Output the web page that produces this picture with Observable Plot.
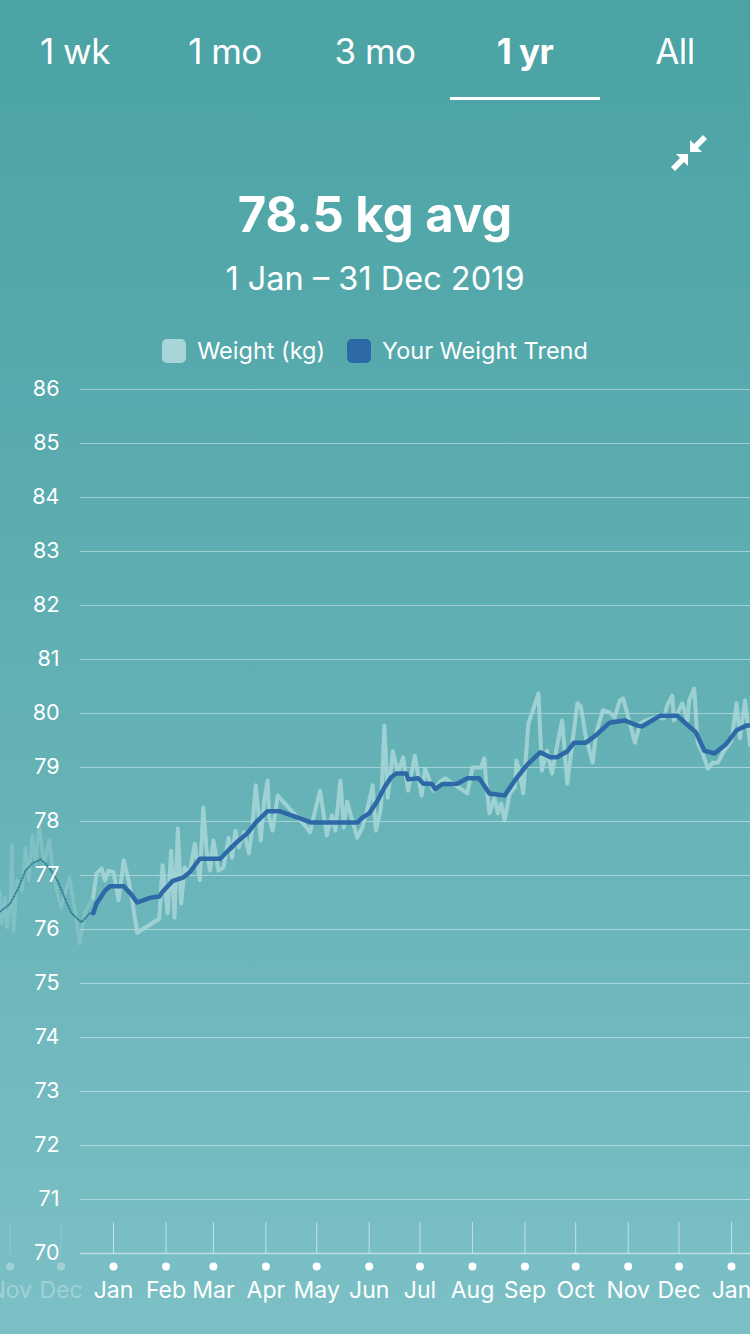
<!DOCTYPE html>
<html>
<head>
<meta charset="utf-8">
<script src="https://cdn.jsdelivr.net/npm/d3@7"></script>
<script src="https://cdn.jsdelivr.net/npm/@observablehq/plot@0.6"></script>
<style>
  html, body { margin: 0; padding: 0; }
  body {
    width: 750px; height: 1334px; overflow: hidden;
    background: linear-gradient(180deg, #4ba3a4 0%, #57aaad 30%, #66b3b7 60%, #7cc0c6 100%);
    font-family: Inter, "Noto Sans", sans-serif; color: #fff;
    position: relative;
  }
  .tabs { position: absolute; top: 0; left: 0; width: 750px; height: 100px; display: flex; }
  .tab { width: 150px; text-align: center; font-size: 35px; line-height: 102px; font-weight: 400; letter-spacing: -0.5px; }
  .tab.active { font-weight: 700; }
  .underline { position: absolute; left: 450px; top: 97px; width: 150px; height: 3px; background: #fff; }
  .icon { position: absolute; left: 668px; top: 130px; }
  .title { position: absolute; top: 185px; width: 750px; text-align: center; font-size: 49px; font-weight: 700; line-height: 60px; }
  .subtitle { position: absolute; top: 258px; width: 750px; text-align: center; font-size: 32.5px; line-height: 42px; }
  .legend { position: absolute; top: 336px; width: 750px; display: flex; justify-content: center; align-items: center; font-size: 23.5px; line-height: 30px; }
  .sw { width: 24px; height: 24px; border-radius: 5px; display: inline-block; margin-right: 11px; }
  .item { display: flex; align-items: center; margin: 0 11px; }
  #chart { position: absolute; top: 360px; left: 0; }
</style>
</head>
<body>
<div class="tabs" id="tabs"></div>
<div class="underline"></div>
<svg class="icon" width="46" height="46" viewBox="0 0 46 46">
  <path d="M22 22 L22 10 L26 14 L35 5 L39 9 L30 18 L34 22 Z" fill="#fff"/>
  <path d="M20 24 L20 36 L16 32 L7 41 L3 37 L12 28 L8 24 Z" fill="#fff"/>
</svg>
<div class="title" id="title"></div>
<div class="subtitle" id="subtitle"></div>
<div class="legend" id="legend"></div>
<div id="chart"></div>
<script>
const tabLabels = ["1 wk", "1 mo", "3 mo", "1 yr", "All"];
const activeTab = "1 yr";
const titleText = "78.5 kg avg";
const subtitleText = "1 Jan – 31 Dec 2019";
const seriesNames = ["Weight (kg)", "Your Weight Trend"];
const seriesColors = ["#a8d6d8", "#2d69a6"];

const yTicks = [70, 71, 72, 73, 74, 75, 76, 77, 78, 79, 80, 81, 82, 83, 84, 85, 86];
const monthTickDates = ["2018-11-01","2018-12-01","2019-01-01","2019-02-01","2019-03-01","2019-04-01","2019-05-01","2019-06-01","2019-07-01","2019-08-01","2019-09-01","2019-10-01","2019-11-01","2019-12-01","2020-01-01"];
const monthTickLabels = ["Nov","Dec","Jan","Feb","Mar","Apr","May","Jun","Jul","Aug","Sep","Oct","Nov","Dec","Jan"];
const fadeBefore = "2018-12-20";

const weightDates = ["2018-10-26","2018-10-27","2018-10-29","2018-10-30","2018-11-01","2018-11-02","2018-11-03","2018-11-05","2018-11-08","2018-11-10","2018-11-12","2018-11-14","2018-11-16","2018-11-18","2018-11-21","2018-11-24","2018-11-27","2018-12-01","2018-12-06","2018-12-09","2018-12-12","2018-12-15","2018-12-18",
"2018-12-20","2018-12-22","2018-12-25","2018-12-27","2018-12-29","2019-01-01","2019-01-04","2019-01-07","2019-01-10","2019-01-12","2019-01-15","2019-01-28","2019-01-30",
"2019-02-02","2019-02-04","2019-02-06","2019-02-08","2019-02-10","2019-02-12","2019-02-15","2019-02-18","2019-02-21","2019-02-23","2019-02-25","2019-02-27",
"2019-03-01","2019-03-04","2019-03-07","2019-03-10","2019-03-12","2019-03-14","2019-03-16","2019-03-19","2019-03-22","2019-03-24","2019-03-26","2019-03-28","2019-03-29","2019-03-31",
"2019-04-02","2019-04-03","2019-04-05","2019-04-08","2019-04-25","2019-04-27",
"2019-05-03","2019-05-07","2019-05-10","2019-05-12","2019-05-15","2019-05-17","2019-05-19","2019-05-22","2019-05-25","2019-05-28","2019-05-31",
"2019-06-03","2019-06-05","2019-06-08","2019-06-10","2019-06-12","2019-06-15","2019-06-18","2019-06-21","2019-06-24","2019-06-28",
"2019-07-02","2019-07-04","2019-07-09","2019-07-13","2019-07-16","2019-07-22","2019-07-29",
"2019-08-01","2019-08-06","2019-08-08","2019-08-09","2019-08-11","2019-08-14","2019-08-16","2019-08-18","2019-08-20","2019-08-23","2019-08-26","2019-08-27","2019-08-29","2019-08-31",
"2019-09-03","2019-09-09","2019-09-11","2019-09-14","2019-09-17","2019-09-20","2019-09-23","2019-09-26","2019-09-29",
"2019-10-02","2019-10-04","2019-10-07","2019-10-11","2019-10-13","2019-10-17","2019-10-21","2019-10-24","2019-10-27","2019-10-29",
"2019-11-01","2019-11-05","2019-11-08","2019-11-11","2019-11-18","2019-11-22","2019-11-24","2019-11-27","2019-11-28",
"2019-12-03","2019-12-06","2019-12-07","2019-12-10","2019-12-12","2019-12-15","2019-12-18","2019-12-21","2019-12-24","2019-12-27",
"2020-01-01","2020-01-04","2020-01-06","2020-01-09","2020-01-12"];
const weightKg = [76.69,76.11,76.59,76.04,76.41,77.56,75.98,76.91,76.72,77.52,76.91,77.74,77.22,77.93,77.22,77.65,76.91,76.41,76.96,76.41,75.74,76.30,76.48,
76.59,77.04,77.13,76.91,77.09,77.06,76.54,77.28,76.91,76.54,75.94,76.20,77.19,
76.30,77.46,76.22,77.87,76.48,77.15,77.04,77.59,76.91,78.26,77.46,77.09,
77.65,77.09,77.15,77.70,77.33,77.83,77.52,77.80,77.41,77.89,78.67,78.02,77.65,78.39,
78.76,78.07,77.83,78.48,77.89,77.80,
78.57,77.74,78.11,77.83,78.76,77.89,78.37,78.02,77.70,77.89,78.24,
78.67,77.83,78.26,79.78,78.44,79.30,78.89,79.19,78.57,79.22,
78.48,78.98,78.57,78.74,78.80,78.67,78.52,
79.00,79.00,79.17,78.76,78.15,78.44,78.15,78.33,78.02,78.52,78.63,79.13,78.89,78.52,
79.81,80.37,78.94,79.31,78.89,79.41,79.87,78.70,79.46,
80.19,80.13,79.56,79.09,79.63,80.06,80.02,79.93,80.24,80.28,
79.93,79.46,79.81,79.87,79.93,79.91,80.15,80.33,79.87,
80.19,79.87,80.24,80.46,79.46,79.26,78.98,79.09,79.09,79.28,
79.50,80.19,79.54,80.24,79.41];

const trendDates = ["2018-10-26","2018-11-01","2018-11-06","2018-11-10","2018-11-14","2018-11-19","2018-11-24","2018-11-29","2018-12-03","2018-12-07","2018-12-13","2018-12-18",
"2018-12-20","2018-12-22","2018-12-27","2018-12-30","2019-01-07","2019-01-11","2019-01-15","2019-01-23","2019-01-28","2019-01-30",
"2019-02-05","2019-02-11","2019-02-15","2019-02-21","2019-03-05","2019-03-11","2019-03-16","2019-03-21","2019-03-26",
"2019-04-02","2019-04-09","2019-04-19","2019-04-28","2019-05-25","2019-05-28",
"2019-06-01","2019-06-06","2019-06-10","2019-06-14","2019-06-17","2019-06-23","2019-06-24","2019-06-30",
"2019-07-03","2019-07-08","2019-07-10","2019-07-14","2019-07-23","2019-07-29",
"2019-08-05","2019-08-11","2019-08-20","2019-08-26","2019-09-02","2019-09-10","2019-09-16","2019-09-20","2019-09-26","2019-09-30",
"2019-10-07","2019-10-13","2019-10-21","2019-10-30","2019-11-06","2019-11-09","2019-11-20","2019-11-30",
"2019-12-03","2019-12-11","2019-12-16","2019-12-22","2019-12-29","2020-01-04","2020-01-10","2020-01-12"];
const trendKg = [76.33,76.48,76.78,77.09,77.22,77.30,77.15,76.90,76.60,76.31,76.13,76.30,
76.30,76.48,76.72,76.80,76.80,76.67,76.50,76.59,76.61,76.70,
76.90,76.96,77.06,77.31,77.31,77.50,77.65,77.78,77.98,
78.19,78.19,78.08,77.98,77.98,78.07,
78.15,78.39,78.63,78.82,78.89,78.89,78.78,78.80,
78.70,78.70,78.60,78.69,78.70,78.80,
78.80,78.52,78.48,78.76,79.04,79.28,79.19,79.19,79.30,79.46,
79.46,79.60,79.83,79.87,79.78,79.76,79.96,79.96,
79.87,79.65,79.31,79.26,79.44,79.69,79.78,79.78];

// DOM text
const tabs = document.getElementById("tabs");
tabLabels.forEach(t => {
  const d = document.createElement("div");
  d.className = "tab" + (t === activeTab ? " active" : "");
  d.textContent = t;
  tabs.appendChild(d);
});
document.getElementById("title").textContent = titleText;
document.getElementById("subtitle").textContent = subtitleText;
const legend = document.getElementById("legend");
seriesNames.forEach((n, i) => {
  const it = document.createElement("div");
  it.className = "item";
  const sw = document.createElement("span");
  sw.className = "sw";
  sw.style.background = seriesColors[i];
  it.appendChild(sw);
  it.appendChild(document.createTextNode(n));
  legend.appendChild(it);
});

const parse = s => new Date(s + "T00:00:00Z");
const cutoff = parse(fadeBefore);
const weight = weightDates.map((d, i) => ({date: parse(d), kg: weightKg[i]}));
const trend = trendDates.map((d, i) => ({date: parse(d), kg: trendKg[i]}));
const months = monthTickDates.map((d, i) => ({date: parse(d), label: monthTickLabels[i], faded: parse(d) < cutoff}));

const chart = Plot.plot({
  width: 750,
  height: 974,
  marginTop: 29,
  marginBottom: 81,
  marginLeft: 0,
  marginRight: 0,
  style: {background: "transparent", fontFamily: "Inter, 'Noto Sans', sans-serif", overflow: "hidden"},
  x: {type: "utc", domain: [parse("2019-01-01"), parse("2020-01-01")], range: [113, 731], axis: null},
  y: {domain: [70, 86], range: [893, 29], axis: null},
  marks: [
    Plot.ruleY(yTicks.filter(v => v !== 70), {y: d => d, stroke: "#ffffff", strokeOpacity: 0.42, strokeWidth: 1, insetLeft: 80}),
    Plot.ruleY([70], {y: d => d, stroke: "#ffffff", strokeOpacity: 0.5, strokeWidth: 1.5, insetLeft: 80}),
    Plot.ruleX(months, {x: "date", stroke: "#ffffff", strokeOpacity: d => d.faded ? 0.18 : 0.55, strokeWidth: 1, insetTop: 833}),
    Plot.line(weight.filter(d => d.date <= cutoff), {x: "date", y: "kg", stroke: seriesColors[0], strokeWidth: 3.5, strokeOpacity: 0.35, curve: "linear"}),
    Plot.line(trend.filter(d => d.date <= cutoff), {x: "date", y: "kg", stroke: "#2a7a92", strokeWidth: 2, strokeOpacity: 0.85, strokeDasharray: "1.2,2.2", curve: "linear"}),
    Plot.line(weight.filter(d => d.date >= cutoff), {x: "date", y: "kg", stroke: seriesColors[0], strokeWidth: 4, strokeOpacity: 0.85, curve: "linear", strokeLinejoin: "round"}),
    Plot.line(trend.filter(d => d.date >= cutoff), {x: "date", y: "kg", stroke: seriesColors[1], strokeWidth: 4.5, curve: "linear", strokeLinejoin: "round"}),
    Plot.dot(months, {x: "date", frameAnchor: "bottom", dy: 13, r: 4, fill: "#ffffff", fillOpacity: d => d.faded ? 0.3 : 1, stroke: null}),
    Plot.text(months, {x: "date", text: "label", frameAnchor: "bottom", dy: 44, fill: "#ffffff", fillOpacity: d => d.faded ? 0.3 : 1, fontSize: 23}),
    Plot.text(yTicks, {y: d => d, text: d => String(d), frameAnchor: "left", textAnchor: "end", dx: 59, fill: "#ffffff", fontSize: 21.5})
  ]
});
document.getElementById("chart").appendChild(chart);
</script>
</body>
</html>
